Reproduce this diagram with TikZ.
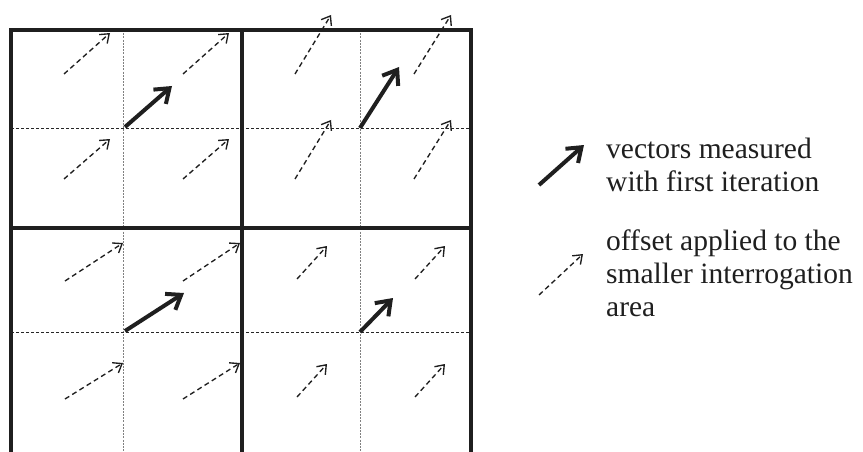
\documentclass[tikz,border=0pt]{standalone}
\usepackage{fontspec}
\setmainfont{Liberation Serif}
\usetikzlibrary{arrows.meta}
\begin{document}
\begin{tikzpicture}[x=1pt,y=-1pt,
  gridthick/.style={line width=3.4pt, line join=miter, black!88},
  gridvdot/.style={line width=0.9pt, gray, dash pattern=on 2pt off 1.2pt},
  gridhdash/.style={line width=0.9pt, black!85, dash pattern=on 3pt off 2pt},
  vecarrow/.style={line width=4pt, black!88, -{Straight Barb[length=13pt,width=19pt]}},
  offarrow/.style={line width=1.35pt, black!88, dash pattern=on 5pt off 3.5pt, -{Straight Barb[length=8pt,width=12pt]}},
  legendtext/.style={inner sep=0pt, anchor=base west, font=\fontsize{29.5}{33}\selectfont, text=black!88}]
\useasboundingbox (0,0) rectangle (863,452);
% grid
\draw[gridvdot] (123,30) -- (123,452);
\draw[gridvdot] (360,30) -- (360,452);
\draw[gridhdash] (11,128) -- (471,128);
\draw[gridhdash] (11,332) -- (471,332);
\draw[gridthick] (11,453) -- (11,30) -- (471,30) -- (471,453);
\draw[gridthick] (242,30) -- (242,453);
\draw[gridthick] (11,228) -- (471,228);
% measured vectors
\foreach \n/\ax/\ay/\bx/\by in {1/125/127/172/86, 2/360/128/399/67, 3/125/331/184/293, 4/360/332/393/298}{
  \coordinate (vs\n) at (\ax,\ay);
  \coordinate (ve\n) at (\bx,\by);
  \draw[vecarrow] (vs\n) -- (ve\n);
}
% offsets
\foreach \n/\ax/\ay/\bx/\by in {
  1/64/74/110/33, 2/183/74/229/33, 3/64/179/110/139, 4/183/179/229/139,
  5/295/74/331/15, 6/414/74/451/15, 7/295/179/331/120, 8/414/179/451/120,
  9/65/281/123/243, 10/183/281/240/243, 11/65/399/123/363, 12/183/399/240/363,
  13/297/279/327/246, 14/415/279/445/246, 15/297/397/327/364, 16/415/397/445/364}{
  \coordinate (os\n) at (\ax,\ay);
  \coordinate (oe\n) at (\bx,\by);
  \draw[offarrow] (os\n) -- (oe\n);
}
% legend
\coordinate (lvs) at (539,185);
\coordinate (lve) at (584,145);
\draw[vecarrow] (lvs) -- (lve);
\coordinate (los) at (539,295);
\coordinate (loe) at (583,254);
\draw[offarrow] (los) -- (loe);
\node[legendtext] (t1) at (606,158) {vectors measured};
\node[legendtext] (t2) at (606,191) {with first iteration};
\node[legendtext] (t3) at (606,250) {offset applied to the};
\node[legendtext] (t4) at (606,283) {smaller interrogation};
\node[legendtext] (t5) at (606,316) {area};
\end{tikzpicture}
\end{document}
